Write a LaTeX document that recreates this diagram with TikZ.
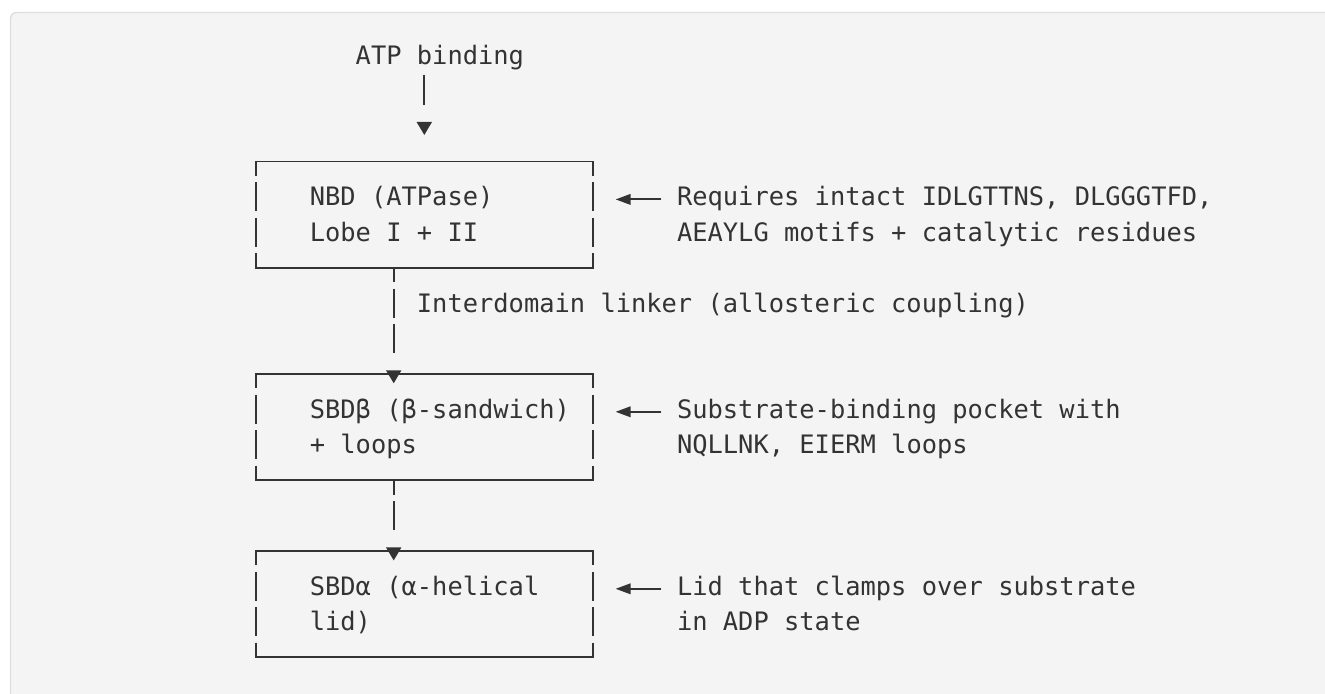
\documentclass[tikz,border=0pt]{standalone}
\usepackage{fontspec}
\usepackage{tikz}
\usetikzlibrary{arrows.meta,calc}
\setmonofont{DejaVu Sans Mono}
\definecolor{ink}{RGB}{51,51,51}
\definecolor{panel}{RGB}{244,244,244}
\definecolor{panelrule}{RGB}{222,222,222}

\tikzset{
  txt/.style={anchor=base west, inner sep=0pt, text width=600pt, text=ink,
    execute at begin node={\spaceskip=0pt\xspaceskip=0pt}},
  frame/.style={minimum width=252.45pt, minimum height=79.65pt, inner sep=0pt, outer sep=0pt},
  rule/.style={draw=ink, line width=1.4pt, line cap=rect},
  side/.style={line cap=butt, dash pattern=on 21.75pt off 4.8pt, dash phase=10.875pt},
  link/.style={draw=ink, line width=1.4pt, dash pattern=#1, -{Triangle[length=9.75pt,width=11.25pt]}},
  ptr/.style={draw=ink, line width=1.4pt, -{Triangle[length=11.25pt,width=7.9pt]}}
}

\begin{document}
\begin{tikzpicture}[x=0.75pt, y=-0.75pt, font=\ttfamily\fontsize{19.06pt}{26.55pt}\selectfont]
\useasboundingbox (0,0) rectangle (1325,693);
\clip (0,0) rectangle (1325,693);
\fill[panel, draw=panelrule, line width=1.1pt, rounded corners=4.5pt] (10.5,12.5) rectangle (1345,715);

% domain boxes
\node[frame] (nbd) at (424.3,214.6) {};
\node[frame] (sbdb) at (424.3,427.0) {};
\node[frame] (sbda) at (424.3,604.0) {};
\foreach \b in {nbd,sbdb,sbda} {
  \draw[rule] (\b.north west) -- (\b.north east);
  \draw[rule] (\b.south west) -- (\b.south east);
  \draw[rule,side] (\b.north west) -- (\b.south west);
  \draw[rule,side] (\b.north east) -- (\b.south east);
}

% texts
\node[txt] (atp) at (355.45,64.3) {ATP binding};
\node[txt] (nbdtext) at (309.55,205.9) {NBD (ATPase)\\Lobe I + II};
\node[txt] (lnk) at (416.65,312.1) {Interdomain linker (allosteric coupling)};
\node[txt] (sbdbtext) at (309.55,418.3) {SBDβ (β-sandwich)\\+ loops};
\node[txt] (sbdatext) at (309.55,595.3) {SBDα (α-helical\\lid)};
\node[txt] (req) at (676.75,205.9) {Requires intact IDLGTTNS, DLGGGTFD,\\AEAYLG motifs + catalytic residues};
\node[txt] (pocket) at (676.75,418.3) {Substrate-binding pocket with\\NQLLNK, EIERM loops};
\node[txt] (clamp) at (676.75,595.3) {Lid that clamps over substrate\\in ADP state};

% chain
\draw[link={on 22.5pt off 60pt}, shorten <=8pt, shorten >=19.9pt] (atp.base -| nbd.north) -- (nbd.north);
\draw[link={on 10.875pt off 4.8pt on 21.75pt off 4.8pt on 21.75pt off 60pt}] ($(nbd.south)+(-30.6,0)$) -- ($(sbdb.north)+(-30.6,9.4)$);
\draw[link={on 10.875pt off 4.8pt on 21.75pt off 60pt}] ($(sbdb.south)+(-30.6,0)$) -- ($(sbda.north)+(-30.6,9.5)$);

% side notes
\draw[ptr] ($(req.base west)+(-15.3,-6.5)$) -- ($(nbd.east |- req.base west)+(23,-6.5)$);
\draw[ptr] ($(pocket.base west)+(-15.3,-6.5)$) -- ($(sbdb.east |- pocket.base west)+(23,-6.5)$);
\draw[ptr] ($(clamp.base west)+(-15.3,-6.5)$) -- ($(sbda.east |- clamp.base west)+(23,-6.5)$);
\end{tikzpicture}
\end{document}
